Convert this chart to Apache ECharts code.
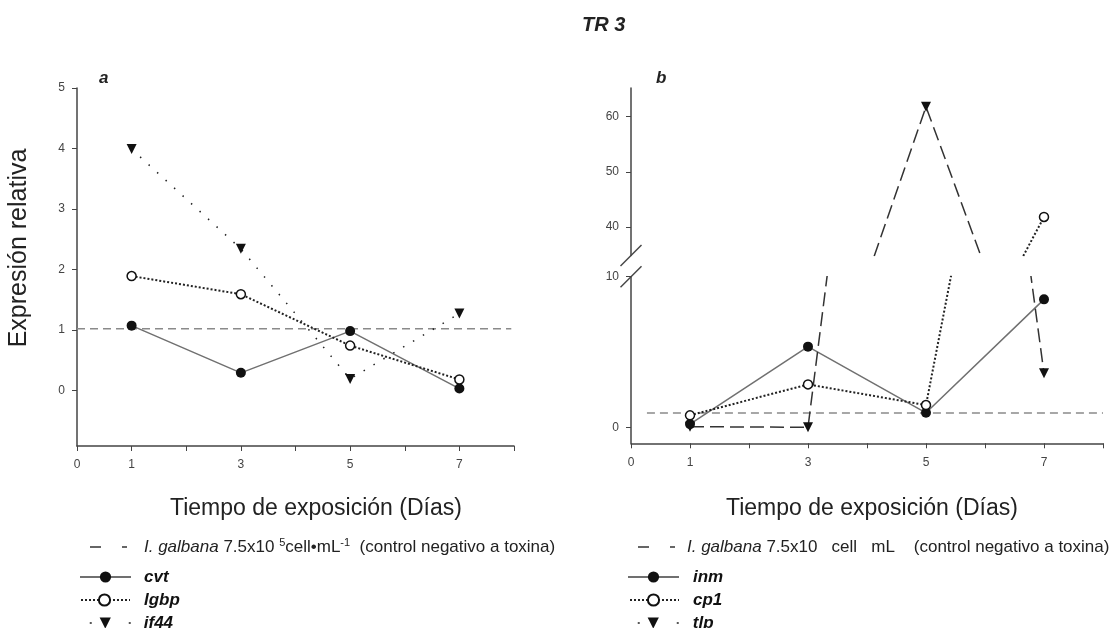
<!DOCTYPE html>
<html>
<head>
<meta charset="utf-8">
<title>TR 3</title>
<script src="https://cdn.jsdelivr.net/npm/echarts@6.0.0/dist/echarts.min.js"></script>
<style>
  html, body { margin: 0; padding: 0; background: #fff; }
  #chart { width: 1112px; height: 628px; }
</style>
</head>
<body>
<div id="chart"></div>
<script>
// dias de exposicion
var days = [1, 3, 5, 7];
var xTickLabels = [0, 1, 3, 5, 7];

// panel a
var cvt = [1.07, 0.29, 0.98, 0.03];
var lgbp = [1.89, 1.59, 0.74, 0.18];
var if44 = [3.99, 2.34, 0.19, 1.27];
var controlA = 1.02;
var controlAx = [0, 7.95];
var yTicksA = [0, 1, 2, 3, 4, 5];

// panel b
var inm = [0.24, 5.37, 0.99, 8.5];
var cp1 = [0.82, 2.87, 1.5, 41.8];
var tlp = [0.07, 0.03, 61.8, 3.6];
var controlB = 0.97;
var controlBx = [0.27, 8];
var yTicksBUp = [40, 50, 60];
var yTicksBLow = [0, 10];

var FONT = '"Liberation Sans", Arial, sans-serif';

function pares(vals) {
    return days.map(function (d, i) { return [d, vals[i]]; });
}

// layout de los paneles
var gA = { left: 77, top: 88, width: 437, height: 358 };
var gBUp = { left: 631, top: 88, width: 472, height: 167.5 };
var gBLow = { left: 631, top: 276.7, width: 472, height: 166.6 };

function ejeX(gridIndex, show) {
    return {
        type: 'value', gridIndex: gridIndex, min: 0, max: 8, interval: 1, show: show,
        axisLine: { onZero: false, lineStyle: { color: '#444', width: 1.5 } },
        axisTick: { length: 5, lineStyle: { color: '#444' } },
        axisLabel: {
            color: '#444', fontSize: 12, fontFamily: FONT, margin: 13,
            formatter: function (v) { return xTickLabels.indexOf(v) >= 0 ? String(v) : ''; }
        },
        splitLine: { show: false }
    };
}

function ejeY(gridIndex, min, max, ticks) {
    return {
        type: 'value', gridIndex: gridIndex, min: min, max: max,
        axisLine: { show: true, onZero: false, lineStyle: { color: '#444', width: 1.5 } },
        axisTick: { show: true, length: 5, customValues: ticks, lineStyle: { color: '#444' } },
        axisLabel: { color: '#444', fontSize: 12, fontFamily: FONT, margin: 12, customValues: ticks },
        splitLine: { show: false }
    };
}

var estiloCtrl = { color: '#8a8a8a', width: 1.5, type: [8, 5] };
var estilos = {
    solido: {
        lineStyle: { color: '#707070', width: 1.5 },
        symbol: 'circle', symbolSize: 10,
        itemStyle: { color: '#111' }
    },
    punteado: {
        lineStyle: { color: '#222', width: 2, type: [2, 2] },
        symbol: 'circle', symbolSize: 9,
        itemStyle: { color: '#fff', borderColor: '#111', borderWidth: 1.5 }
    },
    triPuntos: {
        lineStyle: { color: '#222', width: 1.5, type: [1.5, 10] },
        symbol: 'triangle', symbolRotate: 180, symbolSize: 10,
        itemStyle: { color: '#111' }
    },
    triGuiones: {
        lineStyle: { color: '#333', width: 1.5, type: [14, 6] },
        symbol: 'triangle', symbolRotate: 180, symbolSize: 10,
        itemStyle: { color: '#111' }
    }
};

function serie(name, vals, estilo, idx) {
    return Object.assign({
        name: name, type: 'line', xAxisIndex: idx, yAxisIndex: idx,
        data: pares(vals), clip: true, animation: false, z: 3
    }, estilo);
}

function control(name, xs, v, idx) {
    return {
        name: name, type: 'line', xAxisIndex: idx, yAxisIndex: idx,
        symbol: 'circle', symbolSize: 0, showSymbol: false,
        itemStyle: { color: '#8a8a8a' },
        data: [[xs[0], v], [xs[1], v]], lineStyle: estiloCtrl, z: 1, animation: false
    };
}

var series = [
    control('ctrlA', controlAx, controlA, 0),
    serie('cvt', cvt, estilos.solido, 0),
    serie('lgbp', lgbp, estilos.punteado, 0),
    serie('if44', if44, estilos.triPuntos, 0),

    control('ctrlB', controlBx, controlB, 2),
    serie('inm', inm, estilos.solido, 2),
    serie('cp1', cp1, estilos.punteado, 2),
    serie('tlp', tlp, estilos.triGuiones, 2),
    serie('inm', inm, estilos.solido, 1),
    serie('cp1', cp1, estilos.punteado, 1),
    serie('tlp', tlp, estilos.triGuiones, 1)
];

var richLeyenda = {
    i: { fontStyle: 'italic', fontSize: 17, fontFamily: FONT, color: '#222', lineHeight: 20 },
    n: { fontSize: 17, fontFamily: FONT, color: '#222', lineHeight: 20 },
    sup: { fontSize: 11, fontFamily: FONT, color: '#222', lineHeight: 11, padding: [0, 0, 9, 0] },
    g: { fontSize: 17, fontWeight: 'bold', fontStyle: 'italic', fontFamily: FONT, color: '#111', lineHeight: 20 }
};

function textoLeyenda(name) {
    if (name === 'ctrlA') {
        return '{i|I. galbana}{n| 7.5x10 }{sup|5}{n|cell\u2022mL}{sup|-1}{n|  (control negativo a toxina)}';
    }
    if (name === 'ctrlB') {
        return '{i|I. galbana}{n| 7.5x10   cell   mL    (control negativo a toxina)}';
    }
    return '{g|' + name + '}';
}

// iconos de la leyenda: guion largo + guion corto, y puntos espaciados
var iconoCtrl = { itemStyle: { opacity: 0 }, lineStyle: { type: [11, 21, 5, 60], dashOffset: -10, color: '#666', width: 2 } };
var iconoPuntos = { lineStyle: { type: [2, 37], dashOffset: -10, color: '#222', width: 1.5 } };

function leyenda(name, extra, left, centerY, textPad) {
    return {
        data: [Object.assign({ name: name }, extra || {})],
        orient: 'vertical', left: left, top: centerY - 10,
        itemWidth: 51, itemHeight: 14, padding: 0, selectedMode: false,
        formatter: textoLeyenda,
        textStyle: { rich: richLeyenda, lineHeight: 20, padding: [0, 0, 0, textPad] }
    };
}

var chart = echarts.init(document.getElementById('chart'), null, { renderer: 'canvas' });

chart.setOption({
    backgroundColor: '#fff',
    animation: false,
    title: [
        { text: 'TR 3', left: 582, top: 15, padding: 0,
          textStyle: { fontSize: 20, fontWeight: 'bold', fontStyle: 'italic', color: '#222', fontFamily: FONT } },
        { text: 'a', left: 99, top: 70, padding: 0,
          textStyle: { fontSize: 17, fontWeight: 'bold', fontStyle: 'italic', color: '#222', fontFamily: FONT } },
        { text: 'b', left: 656, top: 70, padding: 0,
          textStyle: { fontSize: 17, fontWeight: 'bold', fontStyle: 'italic', color: '#222', fontFamily: FONT } },
        { text: 'Tiempo de exposición (Días)', left: 170, top: 497, padding: 0,
          textStyle: { fontSize: 23, fontWeight: 'normal', color: '#222', fontFamily: FONT } },
        { text: 'Tiempo de exposición (Días)', left: 726, top: 497, padding: 0,
          textStyle: { fontSize: 23, fontWeight: 'normal', color: '#222', fontFamily: FONT } }
    ],
    legend: [
        leyenda('ctrlA', iconoCtrl, 79, 547, 8),
        leyenda('cvt', null, 79, 577, 8),
        leyenda('lgbp', null, 78, 600, 9),
        leyenda('if44', iconoPuntos, 79, 623, 8),
        leyenda('ctrlB', iconoCtrl, 627, 547, 3),
        leyenda('inm', null, 627, 577, 9),
        leyenda('cp1', null, 627, 600, 9),
        leyenda('tlp', iconoPuntos, 627, 623, 9)
    ],
    grid: [
        Object.assign({ outerBoundsMode: 'none' }, gA),
        Object.assign({ outerBoundsMode: 'none' }, gBUp),
        Object.assign({ outerBoundsMode: 'none' }, gBLow)
    ],
    xAxis: [ejeX(0, true), ejeX(1, false), ejeX(2, true)],
    yAxis: [
        ejeY(0, -0.92, 5, yTicksA),
        ejeY(1, 34.8, 65.2, yTicksBUp),
        ejeY(2, -1.03, 10, yTicksBLow)
    ],
    graphic: [
        { type: 'text', x: 19, y: 248, rotation: Math.PI / 2,
          style: { text: 'Expresión relativa', font: '25px ' + FONT, fill: '#222', align: 'center', verticalAlign: 'middle' } },
        // marcas del corte del eje
        { type: 'line', shape: { x1: gBUp.left - 10.5, y1: gBUp.top + gBUp.height + 10.5, x2: gBUp.left + 10.5, y2: gBUp.top + gBUp.height - 10.5 },
          style: { stroke: '#444', lineWidth: 1.5 } },
        { type: 'line', shape: { x1: gBLow.left - 10.5, y1: gBLow.top + 10.5, x2: gBLow.left + 10.5, y2: gBLow.top - 10.5 },
          style: { stroke: '#444', lineWidth: 1.5 } }
    ],
    series: series
});

window.onresize = function () {
    chart.resize();
};
</script>
</body>
</html>
